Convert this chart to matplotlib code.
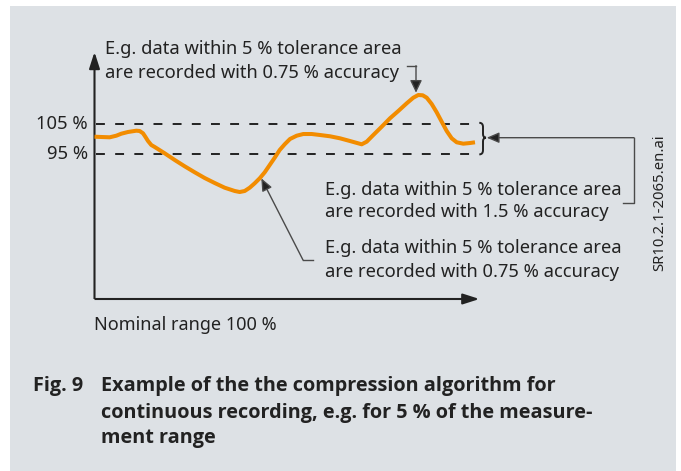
import numpy as np
import matplotlib
matplotlib.use('Agg')
import matplotlib.pyplot as plt
from matplotlib.patches import Rectangle, FancyArrowPatch, PathPatch
from matplotlib.path import Path

plt.rcParams['font.family'] = ['Noto Sans', 'DejaVu Sans']

# signal (x: % of nominal range, y: % of value)
pos = [0.0, 1.77, 3.95, 5.66, 6.96, 8.70, 10.86, 11.74, 12.60, 13.19, 13.90,
       14.75, 15.64, 18.23, 20.83, 23.43, 26.03, 28.62, 31.22, 33.82, 36.42,
       37.71, 39.01, 40.31, 41.61, 42.91, 44.21, 45.51, 46.81, 48.10, 49.40,
       50.78, 52.52, 54.23, 56.42, 58.57, 61.17, 63.77, 66.36, 69.40, 70.70,
       72.42, 74.60, 76.75, 78.91, 81.09, 82.81, 84.10, 85.25, 86.29, 87.58,
       88.88, 90.18, 91.48, 92.78, 94.08, 95.79, 97.53, 98.83]
val = [100.77, 100.67, 100.57, 101.09, 101.74, 102.30, 102.72, 102.62, 101.87,
       100.77, 99.36, 98.06, 97.41, 95.36, 93.18, 91.12, 89.17, 87.31, 85.68,
       84.15, 83.08, 82.75, 83.08, 84.15, 85.59, 87.21, 89.17, 91.55, 93.93,
       96.43, 98.29, 100.02, 101.09, 101.64, 101.64, 101.32, 100.90, 100.24,
       99.36, 98.29, 99.14, 101.32, 104.02, 106.76, 109.14, 111.64, 113.47,
       114.35, 114.25, 113.47, 111.42, 108.71, 105.65, 102.62, 100.24, 98.94,
       98.49, 98.71, 98.94]
tol_levels = [105, 95]
tol_labels = ['105 %', '95 %']
x_end = 100
y_bottom = 47.9
y_top = 128.4

note_top = ['E.g. data within 5 % tolerance area',
            'are recorded with 0.75 % accuracy']
note_mid = ['E.g. data within 5 % tolerance area',
            'are recorded with 1.5 % accuracy']
note_low = ['E.g. data within 5 % tolerance area',
            'are recorded with 0.75 % accuracy']
xlabel = 'Nominal range 100 %'
fig_no = 'Fig. 9'
caption = ['Example of the the compression algorithm for',
           'continuous recording, e.g. for 5 % of the measure-',
           'ment range']
file_id = 'SR10.2.1-2065.en.ai'

W, H = 681, 471
bg = '#dde1e5'
orange = '#f28c00'
ink = '#222222'
thin = '#4a4a4a'

fig = plt.figure(figsize=(W / 100, H / 100), dpi=100)
fig.patch.set_facecolor('white')

# layout layer in pixels
lay = fig.add_axes([0, 0, 1, 1])
lay.set_xlim(0, W)
lay.set_ylim(H, 0)
lay.axis('off')
lay.add_patch(Rectangle((10, 6), 666, 465, color=bg, lw=0))

# data layer: 0 % at x=94.5px, 3.85 px per %; 105 % at y=123.7px, 3.07 px per %
ax = fig.add_axes([0, 0, 1, 1])
ax.patch.set_alpha(0)
ax.axis('off')
ax.set_xlim(-94.5 / 3.85, (W - 94.5) / 3.85)
ax.set_ylim(105 - (H - 123.7) / 3.07, 105 + 123.7 / 3.07)

# axes with arrows
for a, b in [((0, y_bottom), (0, y_top)), ((0, y_bottom), (x_end, y_bottom))]:
    ax.add_patch(FancyArrowPatch(a, b, arrowstyle='-|>,head_length=10,head_width=3.2',
                                 mutation_scale=1, lw=1.5, color=ink,
                                 shrinkA=0, shrinkB=0, capstyle='butt'))

# tolerance band
for lev, lab in zip(tol_levels, tol_labels):
    ax.plot([0.5, 98.5], [lev, lev], color=ink, lw=1.4,
            linestyle=(0, (6.4 / 1.4, 7.4 / 1.4)))
    ax.text(-1.7, lev, lab, ha='right', va='center', fontsize=13.3, color=ink)

ax.plot(pos, val, color=orange, lw=2.9, solid_capstyle='butt', solid_joinstyle='round',
        zorder=5)

# curly brace on the right of the band
verts = [(479.3, 122.8), (483, 122.8), (483, 127.0), (483, 134.0),
         (483, 137.7), (486, 137.7), (483, 137.7), (483, 141.4),
         (483, 150.2), (483, 154.4), (479.3, 154.4)]
codes = [Path.MOVETO, Path.CURVE3, Path.CURVE3, Path.LINETO,
         Path.CURVE3, Path.CURVE3, Path.CURVE3, Path.CURVE3,
         Path.LINETO, Path.CURVE3, Path.CURVE3]
lay.add_patch(PathPatch(Path(verts, codes), fill=False, lw=1.4, ec=ink))

# top pointer
lay.plot([406.7, 416], [65.7, 65.7], color=thin, lw=1.0)
lay.add_patch(FancyArrowPatch((416, 65.7), (416, 92.7),
                              arrowstyle='-|>,head_length=7.5,head_width=3.6',
                              mutation_scale=1, lw=1.0, color=thin, fc=ink,
                              shrinkA=0, shrinkB=0))
# right pointer to the brace
lay.plot([623, 634, 634], [203.3, 203.3, 137.7], color=thin, lw=1.0)
lay.add_patch(FancyArrowPatch((634, 137.7), (486.7, 137.7),
                              arrowstyle='-|>,head_length=7.5,head_width=3.2',
                              mutation_scale=1, lw=1.0, color=thin, fc=ink,
                              shrinkA=0, shrinkB=0))
# diagonal pointer to the falling part
lay.plot([313, 303], [260, 260], color=thin, lw=1.0)
lay.add_patch(FancyArrowPatch((303, 260), (261.3, 178.3),
                              arrowstyle='-|>,head_length=7.5,head_width=3.2',
                              mutation_scale=1, lw=1.0, color=thin, fc=ink,
                              shrinkA=0, shrinkB=0))

fs = 13.2
for txt, y in zip(note_top, [49.3, 72.7]):
    lay.text(105.3, y, txt, fontsize=fs, color=ink, va='center', ha='left')
for txt, y in zip(note_mid, [190, 211.7]):
    lay.text(325, y, txt, fontsize=fs, color=ink, va='center', ha='left')
for txt, y in zip(note_low, [248, 271.7]):
    lay.text(325, y, txt, fontsize=fs, color=ink, va='center', ha='left')

lay.text(94.3, 325, xlabel, fontsize=13.0, color=ink, va='center', ha='left')
lay.text(660, 202.5, file_id, fontsize=10.7, color=ink, va='center', ha='center',
         rotation=90)

cap_font = ['Open Sans', 'DejaVu Sans']
lay.text(33.3, 386, fig_no, fontsize=14.3, color=ink, va='center', ha='left',
         fontweight='bold', family=cap_font)
for txt, y in zip(caption, [386, 412.7, 438]):
    lay.text(101, y, txt, fontsize=14.3, color=ink, va='center', ha='left',
             fontweight='bold', family=cap_font)

fig.savefig('out.png', dpi=100, facecolor='white')
